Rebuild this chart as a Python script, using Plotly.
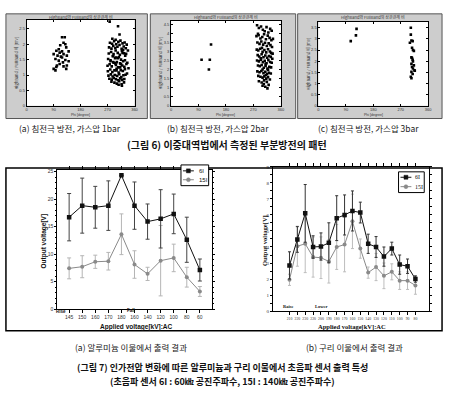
import plotly.graph_objects as go

W, H = 450, 398

# ---------------- data ----------------
# Figure 6 (a) gas pressure 1 bar : phase [deg] / amplitude
phi_a_left = [118, 127, 123, 112, 132, 99, 110, 118, 123, 140, 103, 114, 96, 107, 129,
              121, 140, 101, 110, 90, 99, 123, 132, 134, 96, 118, 107, 134, 90, 129]
amp_a_left = [2.23, 2.23, 2.05, 1.97, 1.90, 1.79, 1.73, 1.77, 1.68, 1.77, 1.63, 1.60, 1.52, 1.47, 1.49,
              1.41, 1.45, 1.31, 1.36, 1.20, 1.26, 1.28, 1.20, 1.31, 1.15, 1.57, 1.84, 1.63, 1.68, 2.00]
phi_a_right = [272, 280, 288, 295, 301, 308, 315, 322, 329, 336,
               270, 277, 284, 291, 298, 305, 312, 319, 326, 333, 340,
               274, 282, 290, 297, 304, 311, 318, 325, 332,
               271, 279, 286, 293, 300, 307, 314, 321, 328, 335,
               275, 283, 289, 296, 303, 310, 317, 324, 331, 338,
               273, 281, 287, 294, 302, 309, 316, 323, 330,
               278, 285, 292, 299, 306, 313, 320, 327, 334,
               276, 284, 291, 298, 305, 312, 319, 326,
               280, 288, 296, 304, 312, 320, 328,
               283, 293, 301, 309, 317, 325,
               286, 297, 307, 318,
               277, 305, 310, 298, 315, 322, 300, 289]
amp_a_right = [1.52, 1.48, 1.61, 1.55, 1.42, 1.58, 1.50, 1.45, 1.63, 1.40,
               1.30, 1.35, 1.28, 1.40, 1.33, 1.25, 1.38, 1.31, 1.27, 1.36, 1.22,
               1.70, 1.75, 1.68, 1.80, 1.72, 1.66, 1.78, 1.71, 1.69,
               1.12, 1.18, 1.10, 1.15, 1.20, 1.08, 1.16, 1.13, 1.19, 1.05,
               1.90, 1.86, 1.95, 1.88, 1.92, 1.98, 1.85, 1.93, 1.87, 1.80,
               0.98, 1.02, 0.95, 1.00, 0.97, 1.03, 0.93, 0.99, 1.01,
               2.05, 2.02, 2.10, 2.00, 2.08, 2.12, 2.03, 2.06, 1.99,
               0.88, 0.85, 0.90, 0.86, 0.83, 0.89, 0.84, 0.87,
               1.45, 1.62, 1.38, 1.55, 1.25, 1.72, 1.48,
               0.78, 0.75, 0.72, 0.80, 0.70, 0.76,
               2.18, 2.15, 0.68, 0.65,
               2.74, 2.59, 2.32, 1.57, 1.35, 1.82, 1.15, 1.42]

# Figure 6 (b) gas pressure 2 bar
phi_b_left = [131, 100, 127, 124]
amp_b_left = [3.39, 2.54, 2.54, 2.00]
phi_b_right = [282, 288, 295, 301, 307, 313, 319, 325, 330, 285,
               280, 287, 293, 299, 305, 311, 317, 323, 329, 334,
               283, 290, 296, 302, 308, 314, 320, 326, 331, 298,
               281, 286, 292, 300, 306, 312, 318, 324, 328, 333,
               284, 289, 297, 303, 309, 315, 321, 327, 332, 294,
               282, 288, 295, 301, 307, 313, 319, 325, 330, 310,
               285, 291, 297, 304, 310, 316, 322, 328, 300, 318,
               283, 290, 296, 303, 309, 315, 321, 327, 311,
               286, 293, 300, 306, 312, 318, 324, 305,
               288, 297, 304, 314, 320, 309,
               316, 300]
amp_b_right = [4.45, 4.30, 4.38, 4.20, 4.12, 4.35, 4.05, 4.25, 4.15, 3.98,
               3.85, 3.90, 3.72, 3.80, 3.95, 3.68, 3.88, 3.75, 3.62, 3.70,
               3.50, 3.42, 3.55, 3.38, 3.48, 3.30, 3.45, 3.35, 3.25, 3.20,
               3.10, 3.05, 3.15, 2.98, 3.08, 2.95, 3.12, 3.00, 2.92, 2.88,
               2.80, 2.72, 2.85, 2.68, 2.78, 2.65, 2.75, 2.70, 2.60, 2.62,
               2.50, 2.45, 2.55, 2.40, 2.48, 2.35, 2.52, 2.42, 2.38, 2.30,
               2.22, 2.18, 2.25, 2.10, 2.20, 2.05, 2.15, 2.12, 2.00, 1.98,
               1.90, 1.85, 1.92, 1.80, 1.88, 1.75, 1.82, 1.78, 1.70,
               1.65, 1.60, 1.55, 1.62, 1.50, 1.58, 1.45, 1.40,
               1.35, 1.28, 1.20, 1.32, 1.15, 1.05,
               0.96, 1.10]

# Figure 6 (c) gas pressure 3 bar
phi_c_left = [106, 123, 125]
amp_c_left = [2.90, 3.16, 3.45]
phi_c_right = [303, 303, 305, 309, 307, 310, 313, 305, 307, 309, 310,
               305, 313, 307, 310, 315, 305, 309, 303, 305, 316, 300]
amp_c_right = [3.50, 3.19, 2.93, 2.90, 2.60, 2.50, 2.46, 2.17, 2.14, 2.06, 1.99,
               1.88, 1.81, 1.74, 1.67, 1.59, 1.52, 1.42, 1.30, 1.23, 1.57, 2.83]

phi_ticks = [0, 90, 180, 270, 360]

# Figure 7 (a) aluminium particle
al_labels = ["145", "150", "160", "170", "180", "160", "140", "120", "100", "80", "60"]
al_6i = [16.7, 18.8, 18.5, 18.8, 24.3, 18.8, 15.9, 16.4, 17.3, 12.6, 7.1]
al_6i_err = [4.3, 5.0, 3.8, 4.5, 0.0, 4.3, 3.2, 5.3, 3.6, 4.1, 2.0]
al_15i = [7.4, 7.7, 8.6, 8.7, 13.6, 8.1, 6.4, 8.8, 9.3, 5.8, 3.2]
al_15i_err = [1.9, 2.0, 1.2, 1.6, 3.7, 2.5, 1.2, 6.4, 2.5, 1.8, 0.9]
al_yticks = [0, 5, 10, 15, 20, 25]

# Figure 7 (b) copper particle
cu_labels = ["210", "220", "230", "220", "200", "190", "180", "170", "160",
             "150", "140", "130", "120", "110", "100", "90", "80"]
cu_6i = [2.85, 4.47, 6.1, 4.0, 4.03, 4.26, 5.8, 6.0, 6.25, 6.15, 4.2, 4.0, 3.4, 3.9, 2.9, 2.8, 2.0]
cu_6i_err = [0.85, 0.8, 1.8, 0.7, 0.85, 1.25, 1.4, 1.25, 1.25, 0.65, 0.6, 0.65, 0.6, 0.4, 0.6, 0.45, 0.2]
cu_15i = [1.95, 4.05, 4.2, 3.37, 3.33, 3.1, 4.0, 4.15, 5.6, 3.9, 2.4, 2.75, 2.2, 2.45, 1.9, 1.9, 1.6]
cu_15i_err = [0.35, 1.25, 1.8, 1.25, 1.3, 1.35, 1.4, 1.7, 1.7, 0.6, 0.35, 0.85, 0.8, 0.5, 0.55, 0.55, 0.55]
cu_yticks = list(range(10))

series_names = ["6I", "15I"]

# ---------------- helpers ----------------
def px(x):
    return x / W


def py(y):
    return 1 - y / H


KR = "Noto Sans CJK KR"
SANS = "Liberation Sans"
SERIF = "Liberation Serif"

fig = go.Figure()

# ---- top scatter panels ----
top_panels = [
    ("x", "y", phi_a_left + phi_a_right, amp_a_left + amp_a_right),
    ("x2", "y2", phi_b_left + phi_b_right, amp_b_left + amp_b_right),
    ("x3", "y3", phi_c_left + phi_c_right, amp_c_left + amp_c_right),
]
for xa, ya, xs, ys in top_panels:
    fig.add_trace(go.Scatter(x=xs, y=ys, xaxis=xa, yaxis=ya, mode="markers",
                             marker=dict(size=2.6, color="black", symbol="square"),
                             showlegend=False, hoverinfo="skip"))

# ---- bottom left (aluminium) ----
al_x = list(range(len(al_labels)))
fig.add_trace(go.Scatter(x=al_x, y=al_15i, xaxis="x4", yaxis="y4", mode="lines+markers",
                         line=dict(color="#8a8a8a", width=1),
                         marker=dict(symbol="circle", size=4, color="#8a8a8a"),
                         error_y=dict(type="data", array=al_15i_err, color="#b5b5b5",
                                      thickness=1, width=2),
                         name=series_names[1], showlegend=False))
fig.add_trace(go.Scatter(x=al_x, y=al_6i, xaxis="x4", yaxis="y4", mode="lines+markers",
                         line=dict(color="#111", width=1),
                         marker=dict(symbol="square", size=4.5, color="#111"),
                         error_y=dict(type="data", array=al_6i_err, color="#444",
                                      thickness=1, width=2),
                         name=series_names[0], showlegend=False))

# ---- bottom right (copper) ----
cu_x = list(range(len(cu_labels)))
fig.add_trace(go.Scatter(x=cu_x, y=cu_15i, xaxis="x5", yaxis="y5", mode="lines+markers",
                         line=dict(color="#8a8a8a", width=1),
                         marker=dict(symbol="circle", size=4, color="#8a8a8a"),
                         error_y=dict(type="data", array=cu_15i_err, color="#bdbdbd",
                                      thickness=1, width=1.5),
                         name=series_names[1], showlegend=False))
fig.add_trace(go.Scatter(x=cu_x, y=cu_6i, xaxis="x5", yaxis="y5", mode="lines+markers",
                         line=dict(color="#111", width=1),
                         marker=dict(symbol="square", size=4.5, color="#111"),
                         error_y=dict(type="data", array=cu_6i_err, color="#333",
                                      thickness=1, width=1.5),
                         name=series_names[0], showlegend=False))

# ---------------- axes ----------------
small = dict(family=SANS, size=4, color="#333")
top_geo = [  # plot area px: x0, x1, y0, y1, ymax
    (26, 135, 18, 105, 2.8),
    (172, 283, 19, 105, 4.7),
    (321, 432, 20, 105, 3.77),
]
layout_axes = {}
for i, (x0, x1, y0, y1, ymax) in enumerate(top_geo):
    sfx = "" if i == 0 else str(i + 1)
    layout_axes["xaxis" + sfx] = dict(
        domain=[px(x0), px(x1)], range=[0, 360], tickvals=phi_ticks,
        anchor="y" + sfx, showline=True, linecolor="black", linewidth=1, mirror="ticks",
        ticks="inside", ticklen=2, tickcolor="black", tickfont=small, tickangle=0,
        showgrid=False, zeroline=False, fixedrange=True)
    layout_axes["yaxis" + sfx] = dict(
        domain=[py(y1), py(y0)], range=[0, ymax], dtick=0.5, tick0=0,
        anchor="x" + sfx, showline=True, linecolor="black", linewidth=1, mirror="ticks",
        ticks="inside", ticklen=2, tickcolor="black", tickfont=small,
        showgrid=False, zeroline=False, fixedrange=True)

layout_axes["xaxis4"] = dict(
    domain=[px(57), px(213)], range=[-0.9, 10.9], tickvals=al_x, ticktext=al_labels,
    anchor="y4", showline=True, linecolor="black", linewidth=1, mirror="ticks",
    ticks="outside", ticklen=3, tickcolor="black", tickangle=0,
    tickfont=dict(family=SANS, size=5, color="#333"),
    showgrid=False, zeroline=False)
layout_axes["yaxis4"] = dict(
    domain=[py(311), py(170)], range=[0, 25.3], tickvals=al_yticks,
    anchor="x4", showline=True, linecolor="black", linewidth=1, mirror="ticks",
    ticks="outside", ticklen=2, tickcolor="black",
    minor=dict(ticks="outside", ticklen=1.5, dtick=1, tickcolor="black"),
    tickfont=dict(family=SANS, size=5, color="#333"),
    showgrid=False, zeroline=False)
layout_axes["xaxis5"] = dict(
    domain=[px(275), px(433)], range=[-2.1, 17.75], tickvals=cu_x, ticktext=cu_labels,
    anchor="y5", showline=True, linecolor="black", linewidth=1, mirror="ticks",
    ticks="outside", ticklen=3, tickcolor="black", tickangle=0,
    tickfont=dict(family=SERIF, size=3.8, color="#333"),
    showgrid=False, zeroline=False)
layout_axes["yaxis5"] = dict(
    domain=[py(313), py(167)], range=[0, 9], tickvals=cu_yticks,
    anchor="x5", showline=True, linecolor="black", linewidth=1, mirror="ticks",
    ticks="outside", ticklen=2, tickcolor="black",
    minor=dict(ticks="outside", ticklen=1.5, dtick=0.5, tickcolor="black"),
    tickfont=dict(family=SERIF, size=5, color="#333"),
    showgrid=False, zeroline=False)

# ---------------- shapes ----------------
shapes = []
frames = [(5, 12, 148, 118), (151, 12, 298, 118), (300, 12, 446, 118)]
for (fx0, fy0, fx1, fy1), (x0, x1, y0, y1, _) in zip(frames, top_geo):
    shapes.append(dict(type="rect", xref="paper", yref="paper",
                       x0=px(fx0), x1=px(fx1), y0=py(fy1), y1=py(fy0),
                       fillcolor="#cdcdcd", line=dict(color="#555", width=1), layer="below"))
    shapes.append(dict(type="rect", xref="paper", yref="paper",
                       x0=px(x0), x1=px(x1), y0=py(y1), y1=py(y0),
                       fillcolor="white", line=dict(width=0), layer="below"))
# bottom outer box
shapes.append(dict(type="rect", xref="paper", yref="paper",
                   x0=px(5), x1=px(446), y0=py(333), y1=py(168),
                   fillcolor="rgba(0,0,0,0)", line=dict(color="black", width=1.5)))


def legend_box(bx0, by0, bx1, by1, rows, font):
    out_shapes, out_ann = [], []
    out_shapes.append(dict(type="rect", xref="paper", yref="paper",
                           x0=px(bx0), x1=px(bx1), y0=py(by1), y1=py(by0),
                           fillcolor="white", line=dict(color="black", width=1)))
    for (ry, color, sym, label, lx0, lx1, tx) in rows:
        out_shapes.append(dict(type="line", xref="paper", yref="paper",
                               x0=px(lx0), x1=px(lx1), y0=py(ry), y1=py(ry),
                               line=dict(color=color, width=1)))
        mx = (lx0 + lx1) / 2
        out_shapes.append(dict(type=sym, xref="paper", yref="paper",
                               x0=px(mx - 2), x1=px(mx + 2), y0=py(ry + 2), y1=py(ry - 2),
                               fillcolor=color, line=dict(color=color, width=0.5)))
        out_ann.append(dict(x=px(tx), y=py(ry), xref="paper", yref="paper", text=label,
                            showarrow=False, xanchor="left", yanchor="middle",
                            font=font))
    return out_shapes, out_ann


annotations = []
s1, a1 = legend_box(182, 165, 210, 186,
                    [(171, "#111", "rect", series_names[0], 184, 195, 198),
                     (180, "#8a8a8a", "circle", series_names[1], 184, 195, 198)],
                    dict(family=SANS, size=6, color="#111"))
s2, a2 = legend_box(402, 172, 428, 193,
                    [(177.5, "#111", "rect", series_names[0], 404, 415, 417),
                     (187, "#8a8a8a", "circle", series_names[1], 404, 415, 417)],
                    dict(family=SERIF, size=6, color="#111"))
shapes += s1 + s2
annotations += a1 + a2


def ann(x, y, text, size, family=KR, color="#222", angle=0, xanchor="center"):
    annotations.append(dict(x=px(x), y=py(y), xref="paper", yref="paper", text=text,
                            showarrow=False, textangle=angle, xanchor=xanchor,
                            yanchor="middle", font=dict(family=family, size=size, color=color)))


# top panel texts
for (x0, x1, y0, y1, _), fx in zip(top_geo, [(5, 148), (151, 298), (300, 446)]):
    cx = (x0 + x1) / 2
    ann(cx, 15, "HighBand와 FullBand의 상관관계 비", 4, KR, "#333")
    ann(cx, 114.5, "Phi [degree]", 3.5, SANS, "#333")
    ann(fx[0] + 10, (y0 + y1) / 2, "HighBand / FullBand 비 [mV]", 4, KR, "#333", angle=-90)

ann(70, 128, "(a) 침전극 방전, 가스압 1bar", 8.5)
ann(219, 128, "(b) 침전극 방전, 가스압 2bar", 8.5)
ann(372, 128, "(c) 침전극 방전, 가스압 3bar", 8.5)
ann(229, 144, "<b>(그림 6) 이중대역법에서 측정된 부분방전의 패턴</b>", 10, KR, "#111")

# bottom chart texts
ann(43, 242, "<b>Output voltage[V]</b>", 6.5, SANS, "#111", angle=-90)
ann(137, 329, "<b>Applied voltage[kV]:AC</b>", 6.5, SANS, "#111")
ann(267, 242, "<b>Output voltage[V]</b>", 6.5, SERIF, "#111", angle=-90)
ann(355, 329, "<b>Applied voltage[kV]:AC</b>", 6.5, SERIF, "#111")
ann(61, 313, "<b>Rise</b>", 4.5, SANS, "#111")
ann(131, 312.5, "<b>Fall</b>", 4.5, SANS, "#111")
ann(291, 308, "<b>Raise</b>", 4.5, SERIF, "#111")
ann(324, 308, "<b>Lower</b>", 4.5, SERIF, "#111")

ann(131, 349, "(a) 알루미늄 이물에서 출력 결과", 8.5)
ann(357, 349, "(b) 구리 이물에서 출력 결과", 8.5)
ann(224, 370.5, "<b>(그림 7) 인가전압 변화에 따른 알루미늄과 구리 이물에서 초음파 센서 출력 특성</b>",
    9, KR, "#111")
ann(224, 384.5, "<b>(초음파 센서 6I : 60㎑ 공진주파수, 15I : 140㎑ 공진주파수)</b>", 9, KR, "#111")

fig.update_layout(
    width=W, height=H, margin=dict(l=0, r=0, t=0, b=0),
    paper_bgcolor="white", plot_bgcolor="rgba(0,0,0,0)",
    showlegend=False, shapes=shapes, annotations=annotations,
    **layout_axes,
)

html = fig.to_html(full_html=True, include_plotlyjs=True, config={"displayModeBar": False})
html = html.replace("<head>", "<head><style>html,body{margin:0;padding:0;overflow:hidden;}</style>", 1)
with open("out.html", "w", encoding="utf-8") as f:
    f.write(html)
